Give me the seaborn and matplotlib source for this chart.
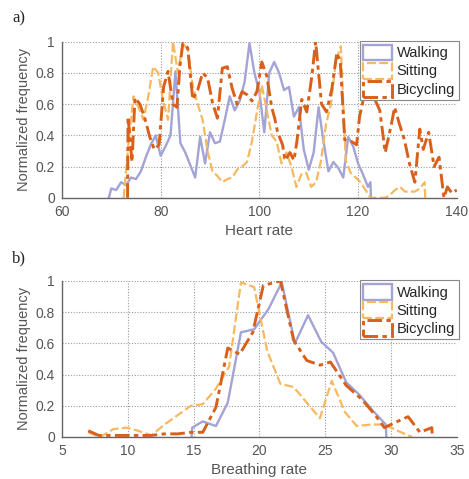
import matplotlib
matplotlib.use("Agg")
import matplotlib.pyplot as plt
from matplotlib.patches import Patch
import seaborn as sns
import pandas as pd

# ---- Heart rate data ----
hr_walk_x = [69.5, 70, 71, 72, 73, 74, 75, 76, 77, 78, 79, 80, 81, 82, 83, 84, 85, 86, 87, 88,
             89, 90, 91, 92, 93, 94, 95, 96, 97, 98, 99, 100, 101, 102, 103, 104, 105, 106, 107,
             108, 109, 110, 111, 112, 113, 114, 115, 116, 117, 118, 119, 120, 121, 122, 122.5, 122.6]
hr_walk_y = [0.0, 0.06, 0.05, 0.1, 0.08, 0.13, 0.12, 0.17, 0.26, 0.34, 0.4, 0.27, 0.33, 0.4, 0.81,
             0.35, 0.29, 0.21, 0.13, 0.39, 0.22, 0.42, 0.35, 0.36, 0.5, 0.65, 0.56, 0.62, 0.74, 0.99,
             0.8, 0.68, 0.42, 0.8, 0.87, 0.8, 0.69, 0.71, 0.52, 0.58, 0.31, 0.18, 0.29, 0.58, 0.36,
             0.17, 0.23, 0.19, 0.13, 0.39, 0.33, 0.22, 0.15, 0.07, 0.1, 0.0]

hr_sit_x = [72.5, 73.5, 74.5, 75.5, 76.5, 77.5, 78.5, 79.5, 80.5, 81.5, 82.5, 83.5, 84.5, 85.5,
            86.5, 87.5, 88.5, 89.5, 90.5, 91.5, 92.5, 93.5, 94.5, 95.5, 96.5, 97.5, 98.5, 99.5,
            100.5, 101.5, 102.5, 103.5, 104.5, 105.5, 106.5, 107.5, 108.5, 109.5, 110.5, 111.5,
            112.5, 113.5, 114.5, 115.5, 116.5, 117.5, 118.5, 119.5, 120.5, 121.5, 122.5, 123.5,
            124.5, 125.5, 126.5, 127.5, 128.5, 129.5, 130.5, 131.5, 132.5, 133.5, 133.6]
hr_sit_y = [0.0, 0.35, 0.65, 0.58, 0.5, 0.65, 0.84, 0.8, 0.62, 0.5, 1.0, 0.8, 0.99, 0.95, 0.72,
            0.6, 0.5, 0.3, 0.17, 0.14, 0.1, 0.12, 0.13, 0.18, 0.2, 0.23, 0.36, 0.55, 0.72, 0.56,
            0.4, 0.36, 0.22, 0.29, 0.2, 0.07, 0.15, 0.16, 0.07, 0.1, 0.24, 0.47, 0.6, 0.88, 0.97,
            0.24, 0.16, 0.13, 0.1, 0.05, 0.0, 0.0, 0.0, 0.0, 0.02, 0.05, 0.07, 0.04, 0.04, 0.04,
            0.06, 0.1, 0.0]

hr_bike_x = [73.3, 73.4, 74.2, 74.8, 75.8, 76.8, 77.8, 78.7, 79.7, 80.6, 81.5, 82.5, 83.3, 83.9,
             84.5, 85.5, 86.5, 87.5, 88.5, 89.5, 90.5, 91.5, 92.5, 93.5, 94.5, 95.5, 96.5, 97.5,
             98.5, 99.5, 100.5, 101.5, 102.5, 103.1, 103.7, 104.7, 105.2, 106.2, 107.0, 107.6,
             108.6, 109.6, 110.6, 111.4, 112.6, 113.6, 114.7, 115.7, 116.4, 117.3, 118.7, 119.7,
             120.3, 121.2, 122.3, 123.4, 124.4, 125.5, 126.8, 127.4, 128.4, 129.4, 130.4, 131.5,
             132.5, 133.2, 134.3, 135.4, 136.4, 137.4, 138.1, 139.0, 140.0]
hr_bike_y = [0.0, 0.52, 0.23, 0.64, 0.6, 0.51, 0.39, 0.31, 0.34, 0.71, 0.81, 0.6, 0.58, 0.84,
             0.99, 0.96, 0.63, 0.69, 0.8, 0.77, 0.61, 0.51, 0.83, 0.84, 0.7, 0.6, 0.68, 0.66,
             0.62, 0.68, 0.87, 0.78, 0.58, 0.51, 0.42, 0.34, 0.24, 0.29, 0.24, 0.36, 0.63, 0.55,
             0.77, 1.0, 0.6, 0.55, 0.7, 0.93, 0.87, 0.37, 0.36, 0.34, 0.52, 0.65, 0.72, 0.63,
             0.56, 0.29, 0.48, 0.58, 0.47, 0.37, 0.22, 0.1, 0.44, 0.31, 0.42, 0.2, 0.26, 0.0,
             0.07, 0.03, 0.05]

# ---- Breathing rate data ----
br_walk_x = [14.85, 14.9, 15.7, 16.7, 17.6, 18.6, 19.6, 20.7, 21.7, 22.7, 23.7, 24.7, 25.6,
             26.6, 27.6, 28.6, 29.6, 29.65]
br_walk_y = [0.0, 0.06, 0.1, 0.07, 0.22, 0.67, 0.69, 0.82, 0.99, 0.6, 0.78, 0.61, 0.54, 0.35,
             0.27, 0.17, 0.08, 0.0]

br_sit_x = [7.0, 7.9, 8.9, 9.9, 10.8, 11.8, 12.8, 13.8, 14.8, 15.7, 16.7, 17.7, 18.6, 19.6,
            20.6, 21.6, 22.6, 23.6, 24.6, 25.5, 26.5, 27.4, 28.5, 29.5, 30.5, 31.6]
br_sit_y = [0.03, 0.0, 0.05, 0.06, 0.04, 0.01, 0.08, 0.14, 0.2, 0.21, 0.31, 0.45, 0.99, 0.96,
            0.55, 0.34, 0.32, 0.22, 0.12, 0.36, 0.16, 0.07, 0.08, 0.08, 0.04, 0.0]

br_bike_x = [7.0, 7.8, 8.8, 9.8, 10.8, 11.8, 12.8, 13.8, 14.8, 15.7, 16.7, 17.6, 18.5, 19.5,
             20.3, 21.6, 22.6, 23.6, 24.6, 25.4, 26.6, 27.8, 28.8, 29.5, 30.5, 31.3, 32.2, 33.1,
             33.15]
br_bike_y = [0.04, 0.01, 0.01, 0.01, 0.01, 0.01, 0.02, 0.02, 0.03, 0.03, 0.19, 0.57, 0.53,
             0.67, 0.97, 1.0, 0.62, 0.49, 0.46, 0.48, 0.33, 0.24, 0.14, 0.06, 0.1, 0.13, 0.03,
             0.06, 0.0]

labels = ["Walking", "Sitting", "Bicycling"]
colors = ["#a3a3d6", "#f6b860", "#d8601c"]
styles = ["-", (0, (4, 1.5)), (0, (5, 1.5, 1.5, 1.5))]
widths = [1.7, 1.6, 2.1]

sns.set_style("white")
plt.rcParams["font.family"] = ["Liberation Sans", "DejaVu Sans"]

fig = plt.figure(figsize=(4.69, 4.79), dpi=100)
ax1 = fig.add_axes([0.132, 0.587, 0.842, 0.326])
ax2 = fig.add_axes([0.132, 0.0877, 0.842, 0.326])

panels = [
    (ax1, [(hr_walk_x, hr_walk_y), (hr_sit_x, hr_sit_y), (hr_bike_x, hr_bike_y)],
     (60, 140), [60, 80, 100, 120, 140], "Heart rate"),
    (ax2, [(br_walk_x, br_walk_y), (br_sit_x, br_sit_y), (br_bike_x, br_bike_y)],
     (5, 35), [5, 10, 15, 20, 25, 30, 35], "Breathing rate"),
]

tick_color = "#555555"
for ax, series, xlim, xticks, xlabel in panels:
    for (xs, ys), lab, c, ls, lw in zip(series, labels, colors, styles, widths):
        df = pd.DataFrame({"x": xs, "y": ys})
        sns.lineplot(data=df, x="x", y="y", ax=ax, color=c, linestyle=ls, linewidth=lw,
                     sort=False, estimator=None, legend=False)
    ax.set_xlim(*xlim)
    ax.set_ylim(0, 1)
    ax.set_xticks(xticks)
    ax.set_yticks([0, 0.2, 0.4, 0.6, 0.8, 1.0])
    ax.set_yticklabels(["0", "0.2", "0.4", "0.6", "0.8", "1"])
    ax.grid(True, linestyle=(0, (1, 1.5)), color="#9a9a9a", linewidth=0.8)
    ax.set_axisbelow(True)
    for s in ["top", "right"]:
        ax.spines[s].set_visible(False)
    for s in ["left", "bottom"]:
        ax.spines[s].set_color("#666666")
        ax.spines[s].set_linewidth(1.0)
    ax.tick_params(axis="both", direction="inout", length=6, width=0.8, colors="#666666",
                   labelcolor=tick_color, labelsize=10, pad=2)
    ax.set_xlabel(xlabel, fontsize=11, color=tick_color, labelpad=4)
    ax.set_ylabel("Normalized frequency", fontsize=10.5, color=tick_color, labelpad=3)
    handles = [Patch(facecolor="none", edgecolor=c, linestyle=ls, linewidth=lw, label=lab)
               for lab, c, ls, lw in zip(labels, colors, styles, widths)]
    leg = ax.legend(handles=handles, loc="upper right", bbox_to_anchor=(1.005, 1.005),
                    fontsize=10.5, frameon=True, fancybox=False, framealpha=1,
                    edgecolor="#888888", borderpad=0.25, handlelength=2.0, handleheight=1.3,
                    handletextpad=0.3, labelspacing=0.15, borderaxespad=0)
    leg.get_frame().set_linewidth(0.8)

fig.text(12 / 469, 1 - 18 / 479, "a)", fontsize=12, family="Liberation Serif", va="center")
fig.text(12 / 469, 1 - 258 / 479, "b)", fontsize=12, family="Liberation Serif", va="center")

fig.savefig("out.png", dpi=100)
